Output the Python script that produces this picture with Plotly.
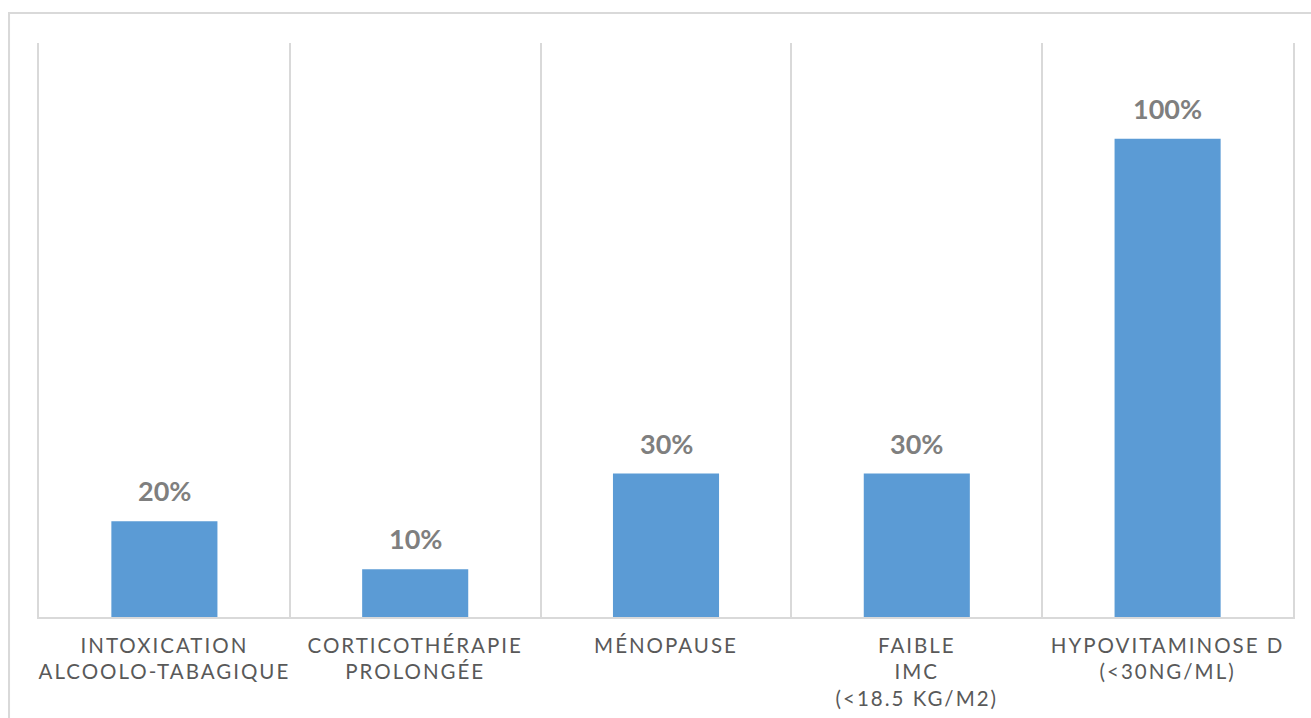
import plotly.graph_objects as go

# Facteurs de risque d'ostéoporose (% des patients)
categories = ["Intoxication", "Corticothérapie", "Ménopause", "Faible IMC", "Hypovitaminose D"]
tick_labels = [
    "INTOXICATION<br>ALCOOLO-TABAGIQUE",
    "CORTICOTHÉRAPIE<br>PROLONGÉE",
    "MÉNOPAUSE",
    "FAIBLE<br>IMC<br>(&lt;18.5 KG/M2)",
    "HYPOVITAMINOSE D<br>(&lt;30NG/ML)",
]
values = [20, 10, 30, 30, 100]

BAR_COLOR = "#5b9bd5"
GRID_COLOR = "#d9d9d9"
LABEL_COLOR = "#7f7f7f"
TICK_COLOR = "#595959"

fig = go.Figure(
    go.Bar(
        x=categories,
        y=values,
        width=0.423,
        marker=dict(color=BAR_COLOR, line=dict(width=0)),
        hoverinfo="skip",
    )
)

# Value labels above each bar
for cat, val in zip(categories, values):
    fig.add_annotation(
        x=cat, y=val, text=f"{val}%",
        showarrow=False, yanchor="bottom", yshift=12,
        font=dict(family="Lato", size=27, color=LABEL_COLOR, weight="bold"),
    )

# Outer chart frame
fig.add_shape(
    type="rect", xref="paper", yref="paper",
    x0=-0.0239, x1=1.05, y0=-0.4, y1=1.0523,
    line=dict(color=GRID_COLOR, width=2), fillcolor="rgba(0,0,0,0)",
    layer="below",
)

fig.update_layout(
    width=1311, height=718,
    margin=dict(l=39, r=18, t=43, b=101, autoexpand=False),
    paper_bgcolor="white", plot_bgcolor="white",
    showlegend=False,
    font=dict(family="Lato"),
)
fig.update_xaxes(
    type="category", automargin=False,
    tickvals=categories, ticktext=tick_labels,
    tickson="boundaries",
    showgrid=True, gridcolor=GRID_COLOR, gridwidth=2,
    showline=True, linecolor=GRID_COLOR, linewidth=2,
    ticks="", ticklabelstandoff=9,
    tickfont=dict(family="Lato", size=20.5, color=TICK_COLOR),
    range=[-0.5, 4.5],
)
fig.update_yaxes(
    range=[0, 120], showgrid=False, zeroline=False, automargin=False,
    showticklabels=False, ticks="",
    showline=True, mirror=True, linecolor=GRID_COLOR, linewidth=2,
)

fig.write_html(
    "out.html",
    config={"displayModeBar": False},
    post_script=(
        "var s=document.createElement('style');"
        "s.textContent='.xtick text{letter-spacing:2px;}';"
        "document.head.appendChild(s);"
    ),
)
